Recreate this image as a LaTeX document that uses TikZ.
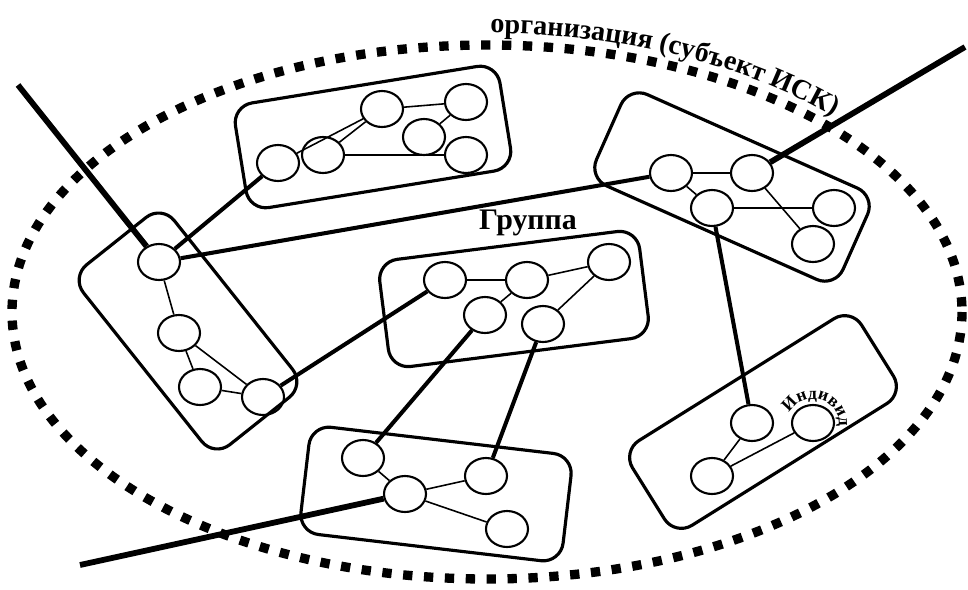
\documentclass[tikz,border=0pt]{standalone}
\usepackage{fontspec}
\setmainfont{Liberation Serif}
\usetikzlibrary{shapes.geometric,decorations.text}

\begin{document}
\begin{tikzpicture}[x=0.02cm,y=-0.02cm]
        \tikzstyle{ind}=[draw,ellipse,line width=1.2pt,inner sep=0pt,minimum width=0.84cm,minimum height=0.72cm]
        \tikzstyle{grp}=[draw,rectangle,rounded corners=0.4cm,line width=1.8pt,inner sep=0pt]
        \tikzstyle{tie}=[line width=0.9pt]
        \tikzstyle{link}=[line width=2.3pt]
        \tikzstyle{ext}=[line width=3.3pt]
        \useasboundingbox (0,0) rectangle (968,589);
        % organisation
        \draw[line width=5.3pt,dash pattern=on 5.3pt off 6.6pt] (487,312) ellipse [x radius=475,y radius=267];
        \path[decorate,decoration={text along path,text={|\fontsize{16}{18}\selectfont\bfseries|организация (субъект ИСК)}}]
            (487,312) ++(-89.6:486 and 279) arc [start angle=-89.6,end angle=-30,x radius=486,y radius=279];
        % groups
        \node[grp,rotate=9.2,minimum width=5.36cm,minimum height=2.12cm] (ga) at (373,137) {};
        \node[grp,rotate=-51.5,minimum width=4.6cm,minimum height=2.32cm] (gb) at (188,331) {};
        \node[grp,rotate=-24,minimum width=5.4cm,minimum height=2.0cm] (gc) at (732,187) {};
        \node[grp,rotate=7.2,minimum width=5.24cm,minimum height=2.16cm] (gd) at (514,299) {};
        \node[grp,rotate=-6.7,minimum width=5.28cm,minimum height=2.16cm] (ge) at (436,494) {};
        \node[grp,rotate=32,minimum width=5.4cm,minimum height=2.0cm] (gf) at (763,422) {};
        \node[font=\fontsize{17}{19}\selectfont\bfseries] (grlabel) at (528,223) {Группа};
        % individuals
        \node[ind] (a1) at (278,163) {};
        \node[ind] (a2) at (323,155) {};
        \node[ind] (a3) at (382,109) {};
        \node[ind] (a4) at (424,137) {};
        \node[ind] (a5) at (466,102) {};
        \node[ind] (a6) at (466,155) {};
        \node[ind] (b1) at (159,262) {};
        \node[ind] (b2) at (179,333) {};
        \node[ind] (b3) at (200,387) {};
        \node[ind] (b4) at (263,397) {};
        \node[ind] (c1) at (671,173) {};
        \node[ind] (c2) at (752,173) {};
        \node[ind] (c3) at (712,208) {};
        \node[ind] (c4) at (834,208) {};
        \node[ind] (c5) at (813,244) {};
        \node[ind] (d1) at (445,280) {};
        \node[ind] (d2) at (527,280) {};
        \node[ind] (d3) at (609,262) {};
        \node[ind] (d4) at (485,315) {};
        \node[ind] (d5) at (543,324) {};
        \node[ind] (e1) at (363,458) {};
        \node[ind] (e2) at (405,494) {};
        \node[ind] (e3) at (486,476) {};
        \node[ind] (e4) at (507,529) {};
        \node[ind] (f1) at (752,423) {};
        \node[ind] (f2) at (813,423) {};
        \node[ind] (f3) at (712,476) {};
        \path[decorate,decoration={text along path,text={|\fontsize{10}{12}\selectfont\bfseries|Индивид}}]
            (f2) ++(-155:26 and 24) arc [start angle=-155,end angle=25,x radius=26,y radius=24];
        % ties inside groups
        \draw[tie] (a1) -- (a3) (a2) -- (a3) (a3) -- (a5) (a4) -- (a5) (a2) -- (a6);
        \draw[tie] (b1) -- (b2) (b2) -- (b3) (b2) -- (b4) (b3) -- (b4);
        \draw[tie] (c1) -- (c2) (c1) -- (c3) (c3) -- (c4) (c2) -- (c5);
        \draw[tie] (d1) -- (d2) (d2) -- (d3) (d2) -- (d4) (d3) -- (d5);
        \draw[tie] (e1) -- (e2) (e2) -- (e3) (e2) -- (e4);
        \draw[tie] (f1) -- (f3) (f2) -- (f3);
        % links between groups
        \draw[link] (b1) -- (a1);
        \draw[link] (b1) -- (c1);
        \draw[link] (b4) -- (d1);
        \draw[link] (d4) -- (e1);
        \draw[link] (d5) -- (e3);
        \draw[link] (c3) -- (f1);
        % outside links
        \coordinate (out1) at (18,85);
        \coordinate (out2) at (965,47);
        \coordinate (out3) at (80,565);
        \draw[ext] (out1) -- (b1);
        \draw[ext] (out2) -- (c2);
        \draw[ext] (out3) -- (e2);
\end{tikzpicture}
\end{document}
